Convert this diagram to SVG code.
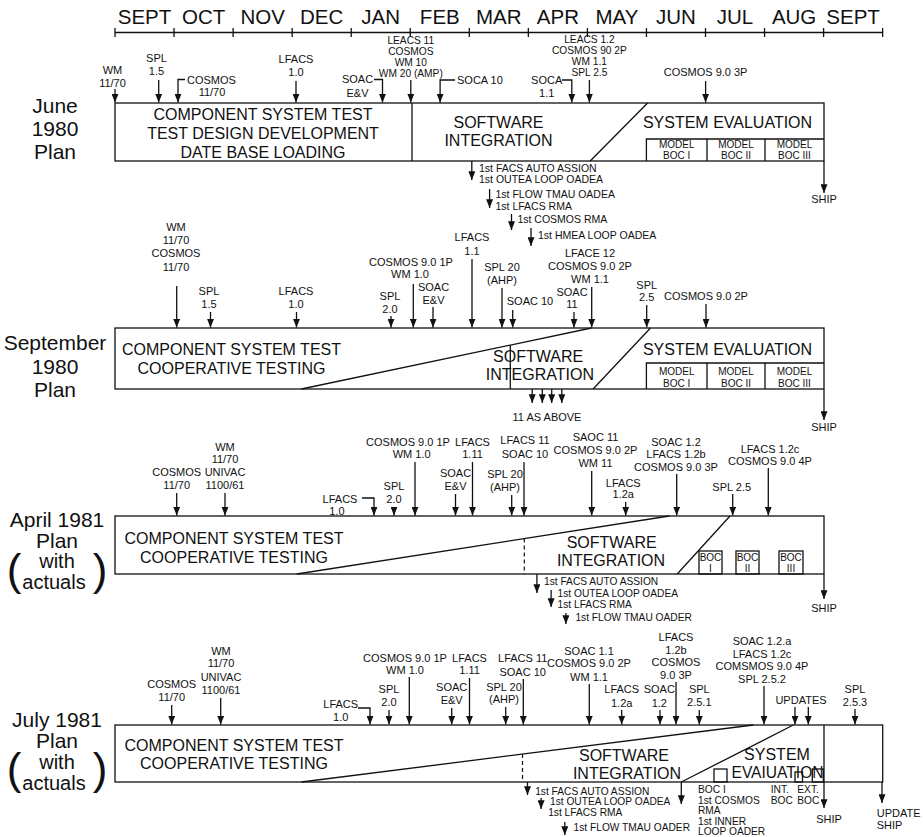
<svg xmlns="http://www.w3.org/2000/svg" width="923" height="837" viewBox="0 0 923 837">
<defs>
<marker id="ah" viewBox="0 0 10 8" refX="10" refY="4" markerWidth="9" markerHeight="7" orient="auto" markerUnits="userSpaceOnUse">
<path d="M0,0 L10,4 L0,8 z" fill="#111"/>
</marker>
</defs>
<style>
text { font-family: "Liberation Sans", Arial, Helvetica, sans-serif; fill: #111; }
.s { font-size: 11px; text-anchor: middle; }
.sl { font-size: 11px; text-anchor: start; }
.xs { font-size: 10.2px; text-anchor: middle; }
.m { font-size: 10.5px; text-anchor: middle; }
.ml { font-size: 10.5px; text-anchor: start; }
.xl { font-size: 10.2px; text-anchor: start; }
.bc { font-size: 10px; text-anchor: middle; }
.b { font-size: 16px; text-anchor: middle; }
.r { font-size: 21px; text-anchor: middle; }
.r2 { font-size: 20px; text-anchor: middle; }
.mo { font-size: 20.5px; text-anchor: middle; }
.p { font-size: 44px; text-anchor: middle; }
.ln { fill: none; stroke: #111; stroke-width: 1.3; }
.ar { fill: none; stroke: #111; stroke-width: 1.3; marker-end: url(#ah); }
.ds { fill: none; stroke: #111; stroke-width: 1.2; stroke-dasharray: 4 3; }
</style>
<rect width="923" height="837" fill="#fff"/>

<!-- month scale -->
<g id="timeline">
<path class="ln" d="M115,32.5 H882.7 M115,28 V37 M174.05,28 V37 M233.1,28 V37 M292.15,28 V37 M351.2,28 V37 M410.25,28 V37 M469.3,28 V37 M528.35,28 V37 M587.4,28 V37 M646.45,28 V37 M705.5,28 V37 M764.55,28 V37 M823.6,28 V37 M882.65,28 V37"/>
<text class="mo" y="23.5"><tspan x="144.5">SEPT</tspan><tspan x="203.6">OCT</tspan><tspan x="262.6">NOV</tspan><tspan x="321.7">DEC</tspan><tspan x="380.7">JAN</tspan><tspan x="439.8">FEB</tspan><tspan x="498.8">MAR</tspan><tspan x="557.9">APR</tspan><tspan x="616.9">MAY</tspan><tspan x="676">JUN</tspan><tspan x="735">JUL</tspan><tspan x="794.1">AUG</tspan><tspan x="853.1">SEPT</tspan></text>
</g>

<!-- ===== June 1980 plan ===== -->
<g id="label-jun80"><text class="r"><tspan x="55" y="112.5">June</tspan><tspan x="55" y="135.8">1980</tspan><tspan x="55" y="159.2">Plan</tspan></text></g>
<g id="plan-jun80">
<rect class="ln" x="115" y="103" width="709" height="58"/>
<path class="ln" d="M412,103 V161 M647.6,103 L590.2,161 M646.4,161 V139 H824 M707,139 V161 M765,139 V161"/>
<text class="b"><tspan x="263" y="119.7">COMPONENT SYSTEM TEST</tspan><tspan x="263" y="138.5">TEST DESIGN DEVELOPMENT</tspan><tspan x="263" y="157.5">DATE BASE LOADING</tspan></text>
<text class="b"><tspan x="498.5" y="127.5">SOFTWARE</tspan><tspan x="498.5" y="145.7">INTEGRATION</tspan></text>
<text class="b" x="727.5" y="127.5">SYSTEM EVALUATION</text>
<text class="bc"><tspan x="676.7" y="148">MODEL</tspan><tspan x="676.7" y="158.7">BOC I</tspan><tspan x="736" y="148">MODEL</tspan><tspan x="736" y="158.7">BOC II</tspan><tspan x="794.5" y="148">MODEL</tspan><tspan x="794.5" y="158.7">BOC III</tspan></text>
</g>
<g id="ms-jun80-wm"><text class="s"><tspan x="112.5" y="74">WM</tspan><tspan x="112.5" y="86.7">11/70</tspan></text></g>
<g id="ms-jun80-spl15"><text class="s"><tspan x="156.5" y="62.3">SPL</tspan><tspan x="156.5" y="75">1.5</tspan></text></g>
<g id="ms-jun80-cosmos"><text class="sl" x="187" y="83.5">COSMOS</text><text class="s" x="212" y="96">11/70</text></g>
<g id="ms-jun80-lfacs"><text class="s"><tspan x="296" y="63.3">LFACS</tspan><tspan x="296" y="75.7">1.0</tspan></text></g>
<g id="ms-jun80-soac"><text class="s"><tspan x="357.5" y="83.3">SOAC</tspan><tspan x="357.5" y="97.3">E&amp;V</tspan></text></g>
<g id="ms-jun80-leacs11"><text class="xs"><tspan x="410.8" y="44">LEACS 11</tspan><tspan x="410.8" y="55">COSMOS</tspan><tspan x="410.8" y="66">WM 10</tspan><tspan x="410.8" y="77">WM 20 (AMP)</tspan></text></g>
<g id="ms-jun80-soca10"><text class="sl" x="457" y="84">SOCA 10</text></g>
<g id="ms-jun80-soca11"><text class="s"><tspan x="546.7" y="84">SOCA</tspan><tspan x="546.7" y="97.3">1.1</tspan></text></g>
<g id="ms-jun80-leacs12"><text class="xs"><tspan x="589.4" y="43">LEACS 1.2</tspan><tspan x="589.4" y="54">COSMOS 90 2P</tspan><tspan x="589.4" y="65">WM 1.1</tspan><tspan x="589.4" y="76">SPL 2.5</tspan></text></g>
<g id="ms-jun80-cosmos3p"><text class="s" x="705.6" y="75.7">COSMOS 9.0 3P</text></g>
<g id="ev-jun80"><text class="ml"><tspan x="479" y="171.5">1st FACS AUTO ASSION</tspan><tspan x="479" y="183">1st OUTEA LOOP OADEA</tspan><tspan x="495.5" y="198.2">1st FLOW TMAU OADEA</tspan><tspan x="495.5" y="209.5">1st LFACS RMA</tspan><tspan x="517.4" y="223">1st COSMOS RMA</tspan><tspan x="538" y="239">1st HMEA LOOP OADEA</tspan></text>
<text class="s" x="824" y="202.7">SHIP</text></g>

<!-- ===== September 1980 plan ===== -->
<g id="label-sep80"><text class="r"><tspan x="55" y="350">September</tspan><tspan x="55" y="373.5">1980</tspan><tspan x="55" y="397">Plan</tspan></text></g>
<g id="plan-sep80">
<rect class="ln" x="115" y="328" width="709" height="61"/>
<path class="ln" d="M301.4,389 L591.4,328 M510.3,345.1 V389 M650.5,328 L593.1,389 M646.4,389 V363 H824 M707,363 V389 M765,363 V389"/>
<text class="b"><tspan x="231.5" y="355">COMPONENT SYSTEM TEST</tspan><tspan x="231.5" y="373.5">COOPERATIVE TESTING</tspan></text>
<text class="b"><tspan x="538.1" y="362">SOFTWARE</tspan><tspan x="539.9" y="380">INTEGRATION</tspan></text>
<text class="b" x="727.5" y="355">SYSTEM EVALUATION</text>
<text class="bc"><tspan x="676.7" y="375">MODEL</tspan><tspan x="676.7" y="386.5">BOC I</tspan><tspan x="736" y="375">MODEL</tspan><tspan x="736" y="386.5">BOC II</tspan><tspan x="794.5" y="375">MODEL</tspan><tspan x="794.5" y="386.5">BOC III</tspan></text>
</g>
<g id="ms-sep80-wm"><text class="s"><tspan x="176" y="231">WM</tspan><tspan x="176" y="244">11/70</tspan><tspan x="176" y="257">COSMOS</tspan><tspan x="176" y="270.7">11/70</tspan></text></g>
<g id="ms-sep80-spl15"><text class="s"><tspan x="209" y="294.7">SPL</tspan><tspan x="209" y="308">1.5</tspan></text></g>
<g id="ms-sep80-lfacs10"><text class="s"><tspan x="296" y="294.7">LFACS</tspan><tspan x="296" y="308">1.0</tspan></text></g>
<g id="ms-sep80-cosmos1p"><text class="s"><tspan x="411" y="265.5">COSMOS 9.0 1P</tspan><tspan x="410" y="278">WM 1.0</tspan></text></g>
<g id="ms-sep80-spl20"><text class="s"><tspan x="390" y="300">SPL</tspan><tspan x="390" y="312.7">2.0</tspan></text></g>
<g id="ms-sep80-soac"><text class="s"><tspan x="433.5" y="290.5">SOAC</tspan><tspan x="433.5" y="303.7">E&amp;V</tspan></text></g>
<g id="ms-sep80-lfacs11"><text class="s"><tspan x="472" y="241.3">LFACS</tspan><tspan x="472" y="254.7">1.1</tspan></text></g>
<g id="ms-sep80-spl20ahp"><text class="s"><tspan x="502" y="270.7">SPL 20</tspan><tspan x="502" y="284">(AHP)</tspan></text></g>
<g id="ms-sep80-soac10"><text class="s" x="530" y="305">SOAC 10</text></g>
<g id="ms-sep80-lface12"><text class="s"><tspan x="590" y="256.7">LFACE 12</tspan><tspan x="590" y="270">COSMOS 9.0 2P</tspan><tspan x="590" y="283.3">WM 1.1</tspan></text></g>
<g id="ms-sep80-soac11"><text class="s"><tspan x="572" y="296.3">SOAC</tspan><tspan x="572" y="308">11</tspan></text></g>
<g id="ms-sep80-spl25"><text class="s"><tspan x="646.7" y="289">SPL</tspan><tspan x="646.7" y="301.3">2.5</tspan></text></g>
<g id="ms-sep80-cosmos2p"><text class="s" x="706" y="299.7">COSMOS 9.0 2P</text></g>
<g id="ev-sep80"><text class="s" x="547" y="420.7">11 AS ABOVE</text><text class="s" x="824" y="431">SHIP</text></g>

<!-- ===== April 1981 plan ===== -->
<g id="label-apr81"><text class="r"><tspan x="57" y="527">April 1981</tspan><tspan x="57" y="548">Plan</tspan></text>
<text class="r2"><tspan x="57" y="568">with</tspan><tspan x="54" y="589">actuals</tspan></text>
<text class="p"><tspan x="14" y="585">(</tspan><tspan x="100" y="585">)</tspan></text></g>
<g id="plan-apr81">
<rect class="ln" x="115" y="516" width="709" height="58"/>
<path class="ln" d="M296.7,574 L669.3,516 M730,516 L677.2,574"/>
<path class="ds" d="M524.3,538.6 V574"/>
<rect class="ln" x="699" y="551" width="23" height="23"/>
<rect class="ln" x="736" y="551" width="23" height="23"/>
<rect class="ln" x="779" y="551" width="24" height="23"/>
<text class="b"><tspan x="234" y="544">COMPONENT SYSTEM TEST</tspan><tspan x="234" y="562.5">COOPERATIVE TESTING</tspan></text>
<text class="b"><tspan x="611.7" y="547.5">SOFTWARE</tspan><tspan x="611" y="566">INTEGRATION</tspan></text>
<text class="bc"><tspan x="710.5" y="561">BOC</tspan><tspan x="710.5" y="572">I</tspan><tspan x="747.5" y="561">BOC</tspan><tspan x="747.5" y="572">II</tspan><tspan x="791" y="561">BOC</tspan><tspan x="791" y="572">III</tspan></text>
</g>
<g id="ms-apr81-cosmos"><text class="s"><tspan x="176.7" y="475.7">COSMOS</tspan><tspan x="176.7" y="489">11/70</tspan></text></g>
<g id="ms-apr81-wm"><text class="s"><tspan x="225" y="450.7">WM</tspan><tspan x="225" y="463.3">11/70</tspan><tspan x="225" y="475.7">UNIVAC</tspan><tspan x="225" y="489">1100/61</tspan></text></g>
<g id="ms-apr81-lfacs10"><text class="s"><tspan x="340" y="503.3">LFACS</tspan><tspan x="337" y="515">1.0</tspan></text></g>
<g id="ms-apr81-spl20"><text class="s"><tspan x="394" y="490">SPL</tspan><tspan x="394" y="503.3">2.0</tspan></text></g>
<g id="ms-apr81-cosmos1p"><text class="s"><tspan x="408" y="445.7">COSMOS 9.0 1P</tspan><tspan x="411.7" y="458">WM 1.0</tspan></text></g>
<g id="ms-apr81-soac"><text class="s"><tspan x="455.5" y="476.7">SOAC</tspan><tspan x="455.5" y="490">E&amp;V</tspan></text></g>
<g id="ms-apr81-lfacs111"><text class="s"><tspan x="472.5" y="445.7">LFACS</tspan><tspan x="472.5" y="458">1.11</tspan></text></g>
<g id="ms-apr81-spl20ahp"><text class="s"><tspan x="505" y="478.3">SPL 20</tspan><tspan x="505" y="491.3">(AHP)</tspan></text></g>
<g id="ms-apr81-lfacs11"><text class="s"><tspan x="525" y="444">LFACS 11</tspan><tspan x="525" y="458">SOAC 10</tspan></text></g>
<g id="ms-apr81-saoc11"><text class="s"><tspan x="595.5" y="440.7">SAOC 11</tspan><tspan x="595.5" y="454">COSMOS 9.0 2P</tspan><tspan x="595.5" y="467.3">WM 11</tspan></text></g>
<g id="ms-apr81-lfacs12a"><text class="s"><tspan x="623.3" y="486.7">LFACS</tspan><tspan x="623.3" y="498">1.2a</tspan></text></g>
<g id="ms-apr81-soac12"><text class="s"><tspan x="676" y="446.3">SOAC 1.2</tspan><tspan x="676" y="458.3">LFACS 1.2b</tspan><tspan x="676" y="470.7">COSMOS 9.0 3P</tspan></text></g>
<g id="ms-apr81-spl25"><text class="s" x="731.7" y="490.7">SPL 2.5</text></g>
<g id="ms-apr81-lfacs12c"><text class="s"><tspan x="770" y="453.3">LFACS 1.2c</tspan><tspan x="770" y="465">COSMOS 9.0 4P</tspan></text></g>
<g id="ev-apr81"><text class="xl"><tspan x="544" y="584.7">1st FACS AUTO ASSION</tspan><tspan x="557.6" y="597">1st OUTEA LOOP OADEA</tspan><tspan x="557.6" y="607.5">1st LFACS RMA</tspan><tspan x="575.4" y="621.3">1st FLOW TMAU OADER</tspan></text>
<text class="s" x="824" y="611.7">SHIP</text></g>

<!-- ===== July 1981 plan ===== -->
<g id="label-jul81"><text class="r"><tspan x="57" y="727">July 1981</tspan><tspan x="57" y="748">Plan</tspan></text>
<text class="r2"><tspan x="57" y="768.5">with</tspan><tspan x="54" y="789.5">actuals</tspan></text>
<text class="p"><tspan x="14" y="784">(</tspan><tspan x="100" y="784">)</tspan></text></g>
<g id="plan-jul81">
<rect class="ln" x="115" y="725" width="767.7" height="57"/>
<path class="ln" d="M301.4,782 L753.3,725 M793.3,725 L681.3,782"/>
<path class="ds" d="M522.5,754.1 V782"/>
<rect class="ln" x="714" y="769" width="13" height="13"/>
<rect class="ln" x="795" y="772" width="7.5" height="10"/>
<rect class="ln" x="812.3" y="769" width="11" height="13"/>
<text class="b"><tspan x="234" y="751">COMPONENT SYSTEM TEST</tspan><tspan x="234" y="769">COOPERATIVE TESTING</tspan></text>
<text class="b"><tspan x="624" y="761">SOFTWARE</tspan><tspan x="627" y="779">INTEGRATION</tspan></text>
<text class="b" x="777" y="760">SYSTEM</text>
<text class="b" x="777.5" y="778" textLength="92" lengthAdjust="spacingAndGlyphs">EVAIUATION</text>
</g>
<g id="ms-jul81-cosmos"><text class="s"><tspan x="171.7" y="688.3">COSMOS</tspan><tspan x="171.7" y="701.3">11/70</tspan></text></g>
<g id="ms-jul81-wm"><text class="s"><tspan x="221" y="654.7">WM</tspan><tspan x="221" y="667.3">11/70</tspan><tspan x="221" y="680.7">UNIVAC</tspan><tspan x="221" y="694">1100/61</tspan></text></g>
<g id="ms-jul81-lfacs10"><text class="s"><tspan x="340.7" y="708">LFACS</tspan><tspan x="340.7" y="721.3">1.0</tspan></text></g>
<g id="ms-jul81-spl20"><text class="s"><tspan x="389" y="693.3">SPL</tspan><tspan x="389" y="706.3">2.0</tspan></text></g>
<g id="ms-jul81-cosmos1p"><text class="s"><tspan x="405" y="661.5">COSMOS 9.0 1P</tspan><tspan x="405" y="673.5">WM 1.0</tspan></text></g>
<g id="ms-jul81-soac"><text class="s"><tspan x="451.7" y="690.7">SOAC</tspan><tspan x="451.7" y="704">E&amp;V</tspan></text></g>
<g id="ms-jul81-lfacs111"><text class="s"><tspan x="469.5" y="661.5">LFACS</tspan><tspan x="469.5" y="674">1.11</tspan></text></g>
<g id="ms-jul81-spl20ahp"><text class="s"><tspan x="504" y="690.7">SPL 20</tspan><tspan x="504" y="703.3">(AHP)</tspan></text></g>
<g id="ms-jul81-lfacs11"><text class="s"><tspan x="522.7" y="662.3">LFACS 11</tspan><tspan x="522.7" y="675.7">SOAC 10</tspan></text></g>
<g id="ms-jul81-soac11"><text class="s"><tspan x="589" y="654.7">SOAC 1.1</tspan><tspan x="589" y="667.3">COSMOS 9.0 2P</tspan><tspan x="589" y="680.7">WM 1.1</tspan></text></g>
<g id="ms-jul81-lfacs12a"><text class="s"><tspan x="621.7" y="693.3">LFACS</tspan><tspan x="621.7" y="706.7">1.2a</tspan></text></g>
<g id="ms-jul81-soac12"><text class="s"><tspan x="659.3" y="693.3">SOAC</tspan><tspan x="659.3" y="706.7">1.2</tspan></text></g>
<g id="ms-jul81-lfacs12b"><text class="s"><tspan x="676" y="641">LFACS</tspan><tspan x="676" y="653.5">1.2b</tspan><tspan x="676" y="666">COSMOS</tspan><tspan x="676" y="678.5">9.0 3P</tspan></text></g>
<g id="ms-jul81-spl251"><text class="s"><tspan x="699.3" y="693.3">SPL</tspan><tspan x="699.3" y="706.3">2.5.1</tspan></text></g>
<g id="ms-jul81-soac12a"><text class="s"><tspan x="762" y="645">SOAC 1.2.a</tspan><tspan x="762" y="657.5">LFACS 1.2c</tspan><tspan x="762" y="670">COMSMOS 9.0 4P</tspan><tspan x="762" y="682.5">SPL 2.5.2</tspan></text></g>
<g id="ms-jul81-updates"><text class="s" x="801" y="704">UPDATES</text></g>
<g id="ms-jul81-spl253"><text class="s"><tspan x="855" y="693.3">SPL</tspan><tspan x="855" y="705.7">2.5.3</tspan></text></g>
<g id="ev-jul81"><text class="xl"><tspan x="535.2" y="794.5">1st FACS AUTO ASSION</tspan><tspan x="550" y="805">1st OUTEA LOOP OADEA</tspan><tspan x="548.2" y="815.7">1st LFACS RMA</tspan><tspan x="573.6" y="831.3">1st FLOW TMAU OADER</tspan></text>
<text class="xl"><tspan x="698" y="793">BOC I</tspan><tspan x="698" y="803.5">1st COSMOS</tspan><tspan x="698" y="814">RMA</tspan><tspan x="698" y="824.5">1st INNER</tspan><tspan x="698" y="835">LOOP OADER</tspan><tspan x="770.7" y="793">INT.</tspan><tspan x="770.7" y="803.5">BOC</tspan><tspan x="797.3" y="793">EXT.</tspan><tspan x="797.3" y="803.5">BOC</tspan></text>
<text class="s" x="829" y="823">SHIP</text>
<text class="sl"><tspan x="876.7" y="816.7">UPDATE</tspan><tspan x="876.7" y="829">SHIP</tspan></text></g>

<!-- arrows and leader lines -->
<g id="connectors">
<path class="ar" d="M115,89 V102.5"/>
<path class="ar" d="M158.7,80 V102.5"/>
<path class="ar" d="M185,79.5 H178 V102.5"/>
<path class="ar" d="M296,81 V102.5"/>
<path class="ar" d="M374,79.5 H382.5 V102.5"/>
<path class="ar" d="M410.8,80 V102.5"/>
<path class="ar" d="M455,80 H440.1 V102.5"/>
<path class="ar" d="M562,80 H571.8 V102.5"/>
<path class="ar" d="M589.4,80 V102.5"/>
<path class="ar" d="M705.6,81 V102.5"/>
<path class="ar" d="M471.8,161 V180"/>
<path class="ar" d="M489.6,189 V208"/>
<path class="ar" d="M511.5,214 V230"/>
<path class="ar" d="M531,228 V246"/>
<path class="ar" d="M824,161 V193"/>

<path class="ar" d="M176.7,286 V327.5"/>
<path class="ar" d="M210.5,312 V327.5"/>
<path class="ar" d="M296.5,312 V327.5"/>
<path class="ar" d="M413.3,284 V327.5"/>
<path class="ar" d="M391,316 V327.5"/>
<path class="ar" d="M433,307 V327.5"/>
<path class="ar" d="M472,259 V327.5"/>
<path class="ar" d="M502,288 V327.5"/>
<path class="ar" d="M512.7,310 V327.5"/>
<path class="ar" d="M591.7,287 V327.5"/>
<path class="ar" d="M574,312 V327.5"/>
<path class="ar" d="M646.7,305 V327.5"/>
<path class="ar" d="M706,304 V327.5"/>
<path class="ar" d="M532.2,389 V403"/>
<path class="ar" d="M542.3,389 V403"/>
<path class="ar" d="M551.7,389 V403"/>
<path class="ar" d="M561.8,389 V403"/>
<path class="ar" d="M824,389 V420"/>

<path class="ar" d="M176.7,493 V515.5"/>
<path class="ar" d="M225,493 V515.5"/>
<path class="ar" d="M362,498 H374 V515.5"/>
<path class="ar" d="M394,507 V515.5"/>
<path class="ar" d="M415,462 V515.5"/>
<path class="ar" d="M455.5,494 V515.5"/>
<path class="ar" d="M472.5,462 V515.5"/>
<path class="ar" d="M511.7,495 V515.5"/>
<path class="ar" d="M524,462 V515.5"/>
<path class="ar" d="M591.7,471 V515.5"/>
<path class="ar" d="M625.7,502 V515.5"/>
<path class="ar" d="M676.7,474 V515.5"/>
<path class="ar" d="M732.7,494 V515.5"/>
<path class="ar" d="M768.3,468 V515.5"/>
<path class="ar" d="M536.9,574 V593"/>
<path class="ar" d="M551.1,590 V607"/>
<path class="ar" d="M565.9,613 V624"/>
<path class="ar" d="M824,574 V599"/>

<path class="ar" d="M171.7,705 V724.5"/>
<path class="ar" d="M220.7,698 V724.5"/>
<path class="ar" d="M358,708 H370 V724.5"/>
<path class="ar" d="M389,710 V724.5"/>
<path class="ar" d="M409.3,677 V724.5"/>
<path class="ar" d="M451.7,708 V724.5"/>
<path class="ar" d="M469.5,678 V724.5"/>
<path class="ar" d="M505.7,707 V724.5"/>
<path class="ar" d="M523.3,679 V724.5"/>
<path class="ar" d="M589.3,684 V724.5"/>
<path class="ar" d="M621.7,710 V724.5"/>
<path class="ar" d="M660,710 V724.5"/>
<path class="ar" d="M676,682 V724.5"/>
<path class="ar" d="M699.3,710 V724.5"/>
<path class="ar" d="M764,686 V724.5"/>
<path class="ar" d="M795,707 V724.5"/>
<path class="ar" d="M808.3,707 V724.5"/>
<path class="ar" d="M855,709 V724.5"/>
<path class="ar" d="M824,725 V808"/>
<path class="ar" d="M527.5,782 V795"/>
<path class="ar" d="M541.1,798 V809"/>
<path class="ar" d="M564.8,822 V835"/>
<path class="ar" d="M681.3,782 V804"/>
<path class="ar" d="M882,782 V803"/>
</g>
</svg>
